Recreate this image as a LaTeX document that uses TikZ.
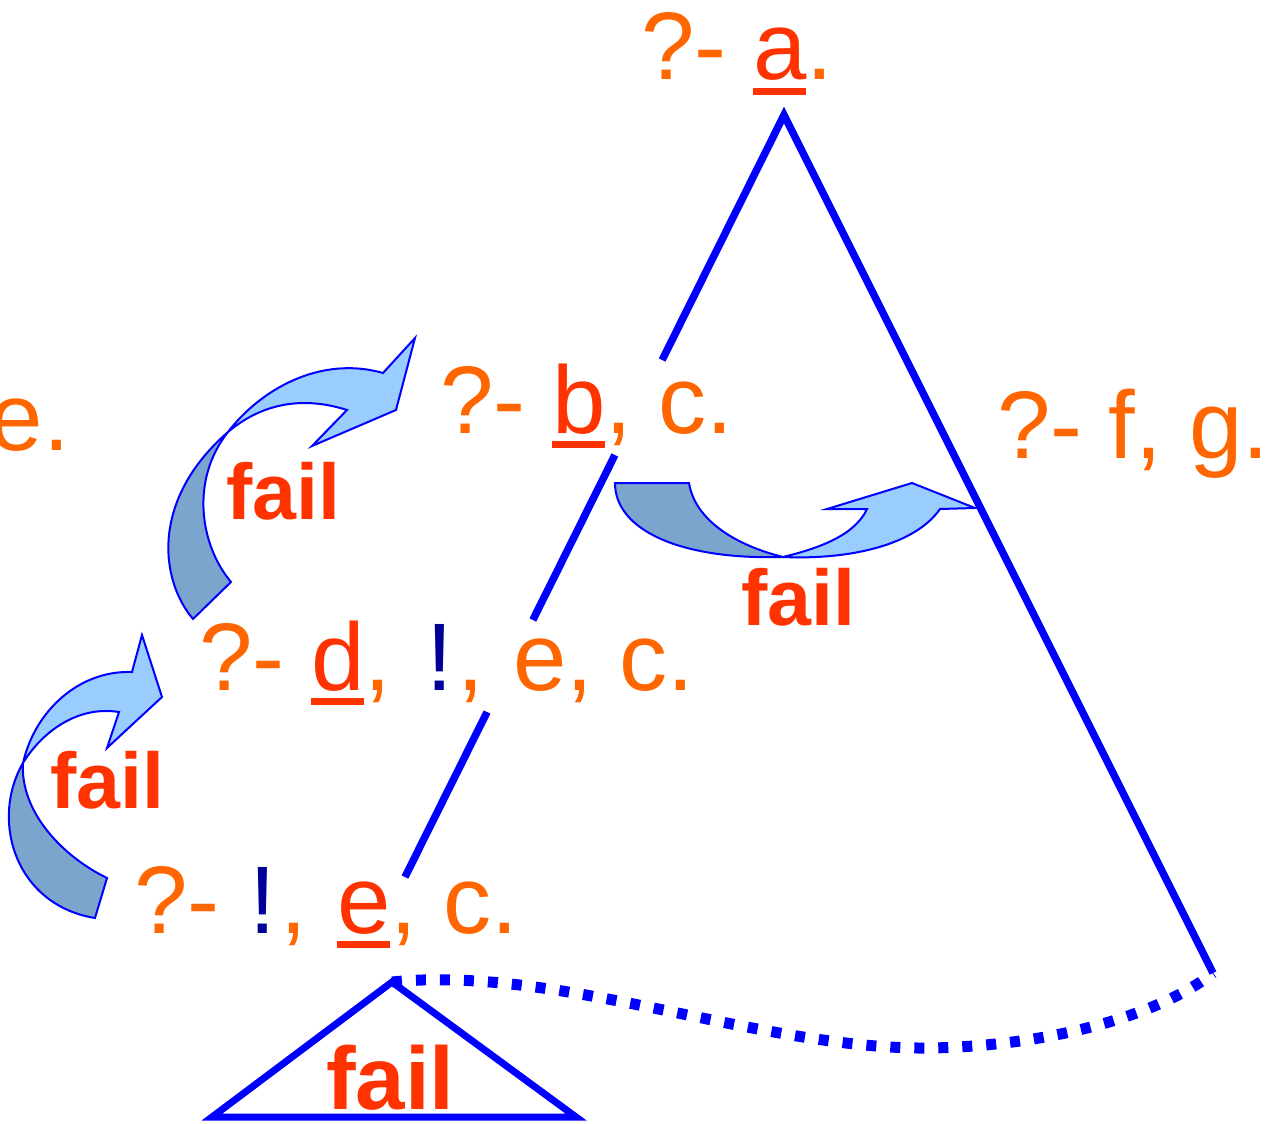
\documentclass[tikz,border=0pt]{standalone}
\usepackage{fontspec}
\setmainfont{Liberation Sans}
\usetikzlibrary{calc}
\definecolor{org}{HTML}{FF6600}
\definecolor{redu}{HTML}{FF3300}
\definecolor{dblue}{HTML}{000099}
\definecolor{lnblue}{HTML}{0000FF}
\definecolor{arrdark}{HTML}{7BA5CC}
\definecolor{arrlight}{HTML}{99CCFF}
\newcommand\ulr[1]{{\color{redu}\setbox0\hbox{#1}\rlap{\rule[-14.5pt]{\wd0}{6.5pt}}\box0}}
\begin{document}
\begin{tikzpicture}[x=1pt,y=-1pt,
  goal/.style={anchor=base west,inner sep=0pt,outer sep=0pt,text=org,font=\fontsize{96}{100}\selectfont},
  cut/.style={goal,text=dblue},
  faillbl/.style={anchor=base west,inner sep=0pt,outer sep=0pt,text=redu,font=\bfseries\fontsize{79}{80}\selectfont},
  tree/.style={draw=lnblue,line width=7.5pt,line join=miter},
  darkpart/.style={fill=arrdark,draw=lnblue,line width=2pt,line join=miter},
  lightpart/.style={fill=arrlight,draw=lnblue,line width=2pt,line join=miter}]
\useasboundingbox (0,0) rectangle (1274,1124);

% ---- tree lines
\coordinate (apex) at (784,115);
\coordinate (lbot) at (405,877);
\coordinate (rbot) at (1213,973);
\draw[tree] ($(apex)!0.3215!(lbot)$) -- (apex) -- (rbot);
\draw[tree] ($(apex)!0.4462!(lbot)$) -- ($(apex)!0.6627!(lbot)$);
\draw[tree] ($(apex)!0.7835!(lbot)$) -- (lbot);

% ---- fail subtree
\coordinate (ftop) at (392,982);
\draw[tree,line width=7pt] (ftop) -- (212,1117) -- (576,1117) -- cycle;
\draw[draw=lnblue,line width=11pt,dash pattern=on 10pt off 14pt]
  (ftop) .. controls (560,965) and (760,1050) .. (930,1048)
         .. controls (1050,1046) and (1160,1015) .. (rbot);

% ---- goals
\node[goal] (ga) at (641,80) {?- \ulr{a}.};
\node[goal] (gb) at (440,433) {?- \ulr{b}, c.};
\node[goal] (gf) at (997,458) {?- f, g.};
\node[goal] (ge) at (-10,450) {e.};
\node[goal] (gd1) at (199,690) {?- \ulr{d},};
\node[cut]  (gd2) at (426,690) {!};
\node[goal] (gd3) at (457,690) {,};
\node[goal] (gd4) at (513,690) {e, c.};
\node[goal] (gc1) at (134,933) {?-};
\node[cut]  (gc2) at (249,933) {!};
\node[goal] (gc3) at (280,933) {,};
\node[goal] (gc4) at (337,933) {\ulr{e}, c.};

% ---- upper-left curved arrow (d -> b)
\draw[darkpart] (193,619) .. controls (160,580) and (150,500) .. (228,432)
  .. controls (190,480) and (200,545) .. (231,582) -- cycle;
\draw[lightpart] (228,432) .. controls (260,390) and (320,355) .. (383,373)
  -- (415,338) -- (396,410) -- (312,446) -- (347,410)
  .. controls (300,395) and (260,405) .. (228,432) -- cycle;

% ---- lower-left curved arrow (!,e,c -> d)
\draw[darkpart] (95,918) .. controls (15,905) and (-10,820) .. (23,763)
  .. controls (20,810) and (60,855) .. (107,878) -- cycle;
\draw[lightpart] (23,763) .. controls (35,710) and (80,670) .. (132,672)
  -- (142,635) -- (162,697) -- (107,748) -- (119,712)
  .. controls (75,705) and (40,735) .. (23,763) -- cycle;

% ---- middle curved arrow (b -> f)
\draw[darkpart] (615,483) .. controls (615,530) and (680,560) .. (783,557)
  .. controls (735,545) and (695,520) .. (689,483) -- cycle;
\draw[lightpart] (783,557) .. controls (850,560) and (915,545) .. (940,509)
  -- (975,508) -- (912,483) -- (827,509) -- (867,509)
  .. controls (855,535) and (820,548) .. (783,557) -- cycle;

% ---- fail labels
\node[faillbl] (f1) at (226,519) {fail};
\node[faillbl] (f2) at (741,625) {fail};
\node[faillbl] (f3) at (50,808) {fail};
\node[faillbl,font=\bfseries\fontsize{89}{90}\selectfont] (f4) at (326,1109) {fail};
\end{tikzpicture}
\end{document}
